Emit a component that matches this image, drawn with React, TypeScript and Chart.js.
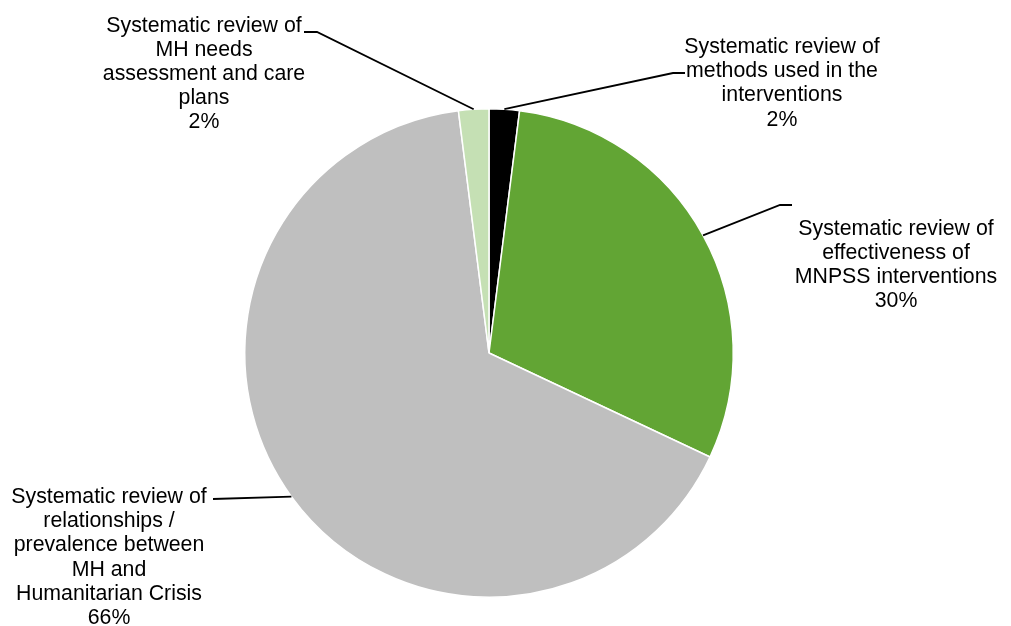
import React, { useEffect, useRef } from "react";
import { Chart, registerables } from "chart.js";

Chart.register(...registerables);

const categories: string[] = [
  "Systematic review of methods used in the interventions",
  "Systematic review of effectiveness of MNPSS interventions",
  "Systematic review of relationships / prevalence between MH and Humanitarian Crisis",
  "Systematic review of MH needs assessment and care plans",
];
const values: number[] = [1, 15, 33, 1];
const percentLabels: string[] = ["2%", "30%", "66%", "2%"];
const labelLines: string[][] = [
  ["Systematic review of", "methods used in the", "interventions"],
  ["Systematic review of", "effectiveness of", "MNPSS interventions"],
  ["Systematic review of", "relationships /", "prevalence between", "MH and", "Humanitarian Crisis"],
  ["Systematic review of", "MH needs", "assessment and care", "plans"],
];
const colors: string[] = ["#000000", "#62A534", "#BFBFBF", "#C5E0B4"];

// layout for the external labels (text centre x, first baseline y, elbow point)
const labelLayout = [
  { x: 782, y: 53, elbow: [673, 73], end: [685, 73] },
  { x: 896, y: 234.5, elbow: [780, 205], end: [792, 205] },
  { x: 109, y: 503, elbow: [213, 499], end: [213, 499] },
  { x: 204, y: 31.5, elbow: [317, 32], end: [304, 32] },
];
const LINE_H = 24.2;

const labelPlugin = {
  id: "outerLabels",
  afterDraw(chart: any) {
    const ctx = chart.ctx;
    const meta = chart.getDatasetMeta(0);
    ctx.save();
    meta.data.forEach((arc: any, i: number) => {
      const p = arc.getProps(["x", "y", "startAngle", "endAngle", "outerRadius"], true);
      const mid = (p.startAngle + p.endAngle) / 2;
      const ax = p.x + Math.cos(mid) * p.outerRadius;
      const ay = p.y + Math.sin(mid) * p.outerRadius;
      const L = labelLayout[i];
      ctx.strokeStyle = "#000000";
      ctx.lineWidth = 1.8;
      ctx.beginPath();
      ctx.moveTo(ax, ay);
      ctx.lineTo(L.elbow[0], L.elbow[1]);
      ctx.lineTo(L.end[0], L.end[1]);
      ctx.stroke();
      ctx.fillStyle = "#000000";
      ctx.font = '21.3px "Liberation Sans", Arial, sans-serif';
      ctx.textAlign = "center";
      ctx.textBaseline = "alphabetic";
      const lines = [...labelLines[i], percentLabels[i]];
      lines.forEach((t, k) => {
        ctx.fillText(t, L.x, L.y + k * LINE_H);
      });
    });
    ctx.restore();
  },
};

export default function App() {
  const ref = useRef<HTMLCanvasElement | null>(null);
  useEffect(() => {
    if (!ref.current) return;
    const chart = new Chart(ref.current, {
      type: "pie",
      data: {
        labels: categories,
        datasets: [
          {
            data: values,
            backgroundColor: colors,
            borderColor: "#FFFFFF",
            borderWidth: 1.5,
          },
        ],
      },
      options: {
        responsive: false,
        animation: false,
        layout: { padding: { left: 244, right: 277, top: 108, bottom: 28 } },
        plugins: {
          legend: { display: false },
          tooltip: { enabled: false },
        },
      },
      plugins: [labelPlugin],
    });
    return () => chart.destroy();
  }, []);
  return (
    <div style={{ position: "absolute", left: 0, top: 0, width: 1011, height: 626, background: "#fff" }}>
      <canvas ref={ref} width={1011} height={626} />
    </div>
  );
}
